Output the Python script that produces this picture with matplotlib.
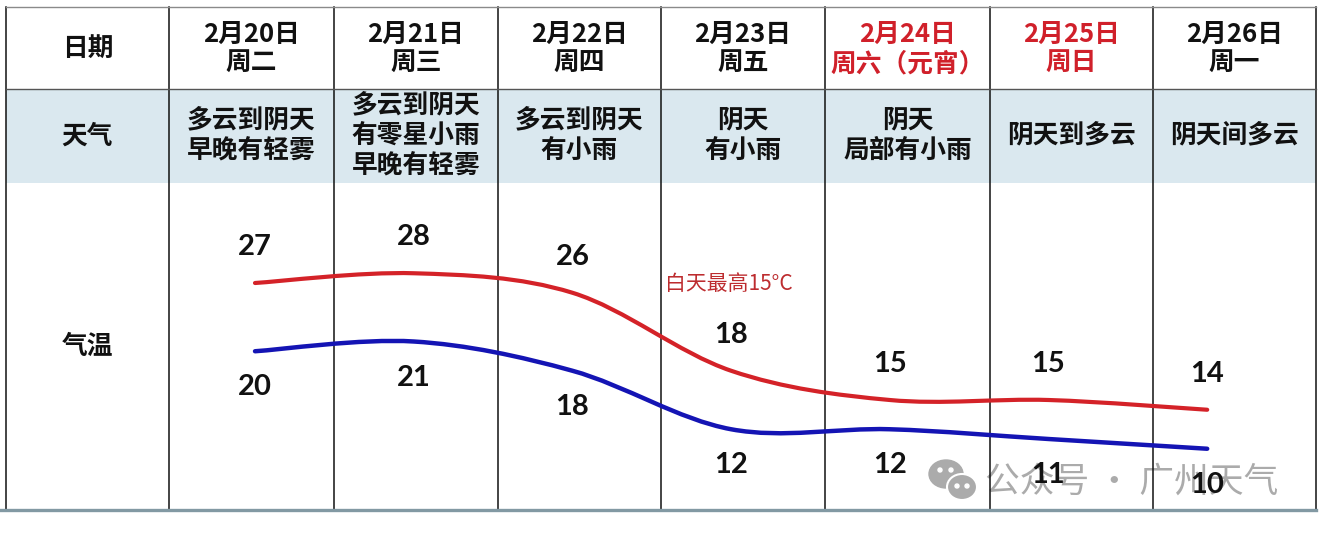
# -------------------- Modules --------------------
import matplotlib
matplotlib.use("Agg")
from matplotlib import pyplot as plt
from matplotlib.path import Path
from matplotlib.patches import PathPatch, Rectangle, Ellipse
import numpy as np


# -------------------- Data --------------------
dates = ["2月20日", "2月21日", "2月22日", "2月23日", "2月24日", "2月25日", "2月26日"]
weekdays = ["周二", "周三", "周四", "周五", "周六（元宵）", "周日", "周一"]
holiday = [False, False, False, False, True, True, False]
weather = [
    "多云到阴天\n早晚有轻雾",
    "多云到阴天\n有零星小雨\n早晚有轻雾",
    "多云到阴天\n有小雨",
    "阴天\n有小雨",
    "阴天\n局部有小雨",
    "阴天到多云",
    "阴天间多云",
]
temp_high = [27, 28, 26, 18, 15, 15, 14]
temp_low = [20, 21, 18, 12, 12, 11, 10]
row_labels = ["日期", "天气", "气温"]
note = "白天最高15°C"
watermark = "公众号 · 广州天气"


# -------------------- Layout --------------------
W, H = 1324, 534
COL_X = [6, 169, 334, 498, 661, 825, 990, 1153, 1316]
ROW_Y = [7, 89, 183, 510]
CJK = ["Noto Sans CJK SC", "DejaVu Sans"]
RED = "#d0202a"
LINE_RED = "#d42228"
LINE_BLUE = "#1414b4"


# -------------------- Helpers --------------------
def smooth_path(xs, ys):
    """Catmull-Rom style bezier path through the points (like a smoothed line)"""
    pts = np.column_stack([xs, ys]).astype(float)
    ext = np.vstack([pts[0], pts, pts[-1]])
    verts = [tuple(pts[0])]
    codes = [Path.MOVETO]
    for i in range(len(pts) - 1):
        p0, p1, p2, p3 = ext[i], ext[i + 1], ext[i + 2], ext[i + 3]
        c1 = p1 + (p2 - p0) / 6.0
        c2 = p2 - (p3 - p1) / 6.0
        verts += [tuple(c1), tuple(c2), tuple(p2)]
        codes += [Path.CURVE4] * 3
    return Path(verts, codes)


def draw_table(bg):
    # weather row fill
    bg.add_patch(Rectangle((COL_X[0], ROW_Y[1]), COL_X[-1] - COL_X[0],
                           ROW_Y[2] - ROW_Y[1], color="#dae8ef", lw=0, zorder=0))
    # vertical separators
    for x in COL_X:
        bg.plot([x, x], [ROW_Y[0], ROW_Y[-1]], color="#111111", lw=1.1, zorder=2)
    # horizontal lines
    bg.plot([COL_X[0], COL_X[-1]], [ROW_Y[0], ROW_Y[0]], color="#8a8a8a", lw=1.0, zorder=2)
    bg.plot([COL_X[0], COL_X[-1]], [ROW_Y[1], ROW_Y[1]], color="#555555", lw=1.0, zorder=2)
    bg.plot([0, COL_X[-1]], [ROW_Y[-1], ROW_Y[-1]], color="#8299a3", lw=2.4, zorder=3)


def draw_texts(bg):
    label_x = (COL_X[0] + COL_X[1]) / 2
    for label, (y0, y1) in zip(row_labels, zip(ROW_Y[:-1], ROW_Y[1:])):
        bg.text(label_x, (y0 + y1) / 2, label, ha="center", va="center",
                fontsize=18.5, fontweight="bold", family=CJK, color="#111111")

    for i in range(len(dates)):
        cx = (COL_X[i + 1] + COL_X[i + 2]) / 2
        color = RED if holiday[i] else "#111111"
        bg.text(cx, 49, f"{dates[i]}\n{weekdays[i]}", ha="center", va="center",
                multialignment="center", linespacing=1.1,
                fontsize=18.5, fontweight="bold", family=CJK, color=color)
        bg.text(cx, 135, weather[i], ha="center", va="center",
                multialignment="center", linespacing=1.14,
                fontsize=18.5, fontweight="bold", family=CJK, color="#111111")

    bg.text(665, 284, note, ha="left", va="center", fontsize=15,
            family=CJK, color="#bd2c2f")


def draw_watermark(bg):
    grey = "#ababab"
    bg.add_patch(Ellipse((946, 474), 34, 28, color=grey, zorder=1))
    bg.add_patch(Ellipse((962, 487), 30, 26, facecolor=grey, edgecolor="white",
                         lw=1.5, zorder=1))
    for ex, ey in [(940, 470), (951, 470), (957, 486), (967, 486)]:
        bg.add_patch(Ellipse((ex, ey), 4, 4, color="white", zorder=1))
    bg.text(985, 482, watermark, ha="left", va="center", fontsize=25,
            family=CJK, color=grey, zorder=1)


def draw_temperatures(fig):
    left, right, top, bottom = COL_X[1], COL_X[-1], ROW_Y[2], ROW_Y[3]
    ax = fig.add_axes([left / W, (H - bottom) / H, (right - left) / W, (bottom - top) / H])
    ax.patch.set_visible(False)
    ax.axis("off")
    step = 158.7
    ax.set_xlim((left - 255) / step, (right - 255) / step)
    ax.set_ylim(27 - (bottom - 283) / 9.75, 27 + (283 - top) / 9.75)

    xs = np.arange(len(temp_high))
    for vals, color, lw in [(temp_high, LINE_RED, 3.0), (temp_low, LINE_BLUE, 3.2)]:
        ax.add_patch(PathPatch(smooth_path(xs, vals), fill=False, edgecolor=color,
                               lw=lw, capstyle="round", zorder=3))

    for x, v in zip(xs, temp_high):
        ax.annotate(str(v), (x, v), xytext=(0, 26), textcoords="offset points",
                    ha="center", va="center", fontsize=21, fontweight="bold",
                    family="Lato", color="#111111", zorder=4)
    for x, v in zip(xs, temp_low):
        ax.annotate(str(v), (x, v), xytext=(0, -26), textcoords="offset points",
                    ha="center", va="center", fontsize=21, fontweight="bold",
                    family="Lato", color="#111111", zorder=4)
    return ax


# -------------------- Main -----------------------
def main():
    fig = plt.figure(figsize=(W / 100, H / 100), dpi=100)
    bg = fig.add_axes([0, 0, 1, 1])
    bg.set_xlim(0, W)
    bg.set_ylim(H, 0)
    bg.axis("off")

    draw_table(bg)
    draw_texts(bg)
    draw_watermark(bg)
    draw_temperatures(fig)

    fig.savefig("out.png", dpi=100, facecolor="white")


if __name__ == "__main__":
    main()
